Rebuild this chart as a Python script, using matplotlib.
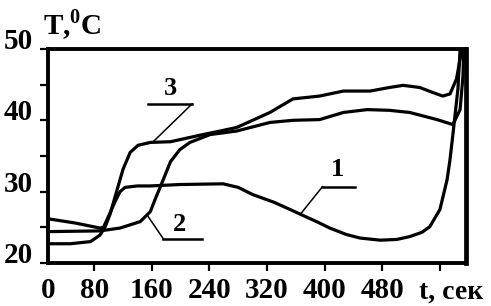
import matplotlib.pyplot as plt
from matplotlib.ticker import MultipleLocator, FixedLocator

plt.rcParams["mathtext.fontset"] = "custom"
plt.rcParams["mathtext.rm"] = "Liberation Serif:bold"
plt.rcParams["mathtext.bf"] = "Liberation Serif:bold"

# Curve 1
t1 = [16, 54, 88, 93, 102, 110, 116, 123, 140, 158, 199, 259, 280, 300, 330,
      352, 393, 407, 430, 449, 477, 500, 518, 535, 546, 560, 570, 574, 578,
      585, 588]
T1 = [26.2, 25.6, 24.9, 25.0, 27.0, 28.8, 30.0, 30.6, 30.8, 30.8, 31.0, 31.1,
      30.6, 29.6, 28.5, 27.5, 25.6, 24.9, 24.0, 23.5, 23.2, 23.3, 23.7, 24.3,
      25.1, 27.5, 31.7, 34.5, 38.0, 44.4, 50.0]

# Curve 2
t2 = [16, 88, 116, 144, 158, 165, 172, 186, 199, 213, 241, 278, 324, 356, 393,
      426, 459, 490, 518, 556, 578, 588, 592, 593]
T2 = [24.4, 24.5, 24.9, 25.8, 27.2, 29.0, 30.7, 34.2, 35.9, 36.9, 38.0, 38.5,
      39.7, 40.0, 40.1, 41.1, 41.5, 41.4, 41.1, 40.1, 39.4, 41.5, 46.2, 50.0]

# Curve 3
t3 = [16, 47, 75, 88, 95, 102, 112, 120, 130, 141, 158, 186, 213, 231, 255,
      278, 300, 324, 356, 393, 426, 463, 490, 509, 532, 550, 564, 574, 583,
      588, 590]
T3 = [22.7, 22.7, 23.0, 23.9, 25.0, 26.8, 30.3, 33.1, 35.5, 36.5, 36.9, 37.0,
      37.6, 38.0, 38.5, 39.0, 40.0, 41.1, 43.0, 43.4, 44.1, 44.1, 44.6, 44.9,
      44.6, 43.9, 43.4, 43.7, 45.8, 48.6, 50.0]

x_ticks = [16, 80, 160, 240, 320, 400, 480, 560]
x_labels = ["0", "80", "160", "240", "320", "400", "480", ""]
y_ticks = [20, 30, 40, 50]

# label: text pos, underline x-range and y, leader start x, leader end
curve_labels = [
    ("1", (418, 33.1), (397, 442), 30.7, 397, (366, 26.8)),
    ("2", (199, 25.35), (176, 230), 23.4, 176, (153, 26.8)),
    ("3", (186, 44.4), (155, 216), 42.3, 216, (162, 37.0)),
]

font = dict(family="Liberation Serif", weight="bold")

fig = plt.figure(figsize=(4.91, 3.06), dpi=100)
ax = fig.add_axes([0.0978, 0.1405, 0.851, 0.6995])

for t, T in [(t1, T1), (t2, T2), (t3, T3)]:
    ax.plot(t, T, color="black", lw=2.3, solid_capstyle="round")

for txt, (tx, ty), (ux0, ux1), uy, lx0, (lx, ly) in curve_labels:
    ax.text(tx, ty, txt, ha="center", va="center", fontsize=19, **font)
    ax.plot([ux0, ux1], [uy, uy], color="black", lw=1.8)
    ax.plot([lx0, lx], [uy, ly], color="black", lw=1.1)

ax.set_xlim(16, 596)
ax.set_ylim(20, 50)
ax.xaxis.set_major_locator(FixedLocator(x_ticks))
ax.set_xticklabels(x_labels)
ax.yaxis.set_major_locator(FixedLocator(y_ticks))
ax.yaxis.set_minor_locator(MultipleLocator(5))

for s in ax.spines.values():
    s.set_linewidth(2.8)
ax.spines["right"].set_linewidth(3.4)

ax.tick_params(axis="both", which="both", direction="out", width=1.6, length=6,
               labelsize=21)
ax.tick_params(axis="x", pad=4)
ax.tick_params(axis="y", pad=5)
ax.xaxis.get_major_ticks()[0].tick1line.set_visible(False)
for lab in ax.get_xticklabels() + ax.get_yticklabels():
    lab.set_fontfamily("Liberation Serif")
    lab.set_fontweight("bold")
for lab in ax.get_yticklabels():
    lab.set_va("baseline")

ax.text(0.965, -0.168, "t, сек", transform=ax.transAxes, ha="center",
        va="baseline", fontsize=20, **font)
fig.text(0.148, 0.918, r"T,$^{0}$C", ha="center", va="center", fontsize=21,
         **font)

fig.savefig("out.png", dpi=100)
